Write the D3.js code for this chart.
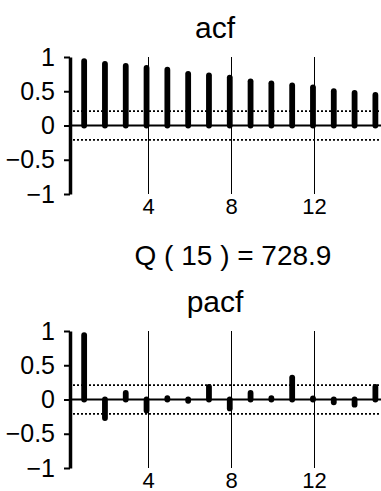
<!DOCTYPE html>
<html>
<head>
<meta charset="utf-8">
<script src="https://cdn.jsdelivr.net/npm/d3@7"></script>
<style>
  html, body { margin: 0; padding: 0; background: #fff; }
  svg { display: block; font-family: "Liberation Sans", Arial, sans-serif; }
</style>
</head>
<body>
<svg id="chart" width="381" height="491"></svg>
<script>
// Correlogram data: autocorrelation and partial autocorrelation by lag
const lags = [1, 2, 3, 4, 5, 6, 7, 8, 9, 10, 11, 12, 13, 14, 15];
const acfValues = [0.94, 0.90, 0.87, 0.84, 0.815, 0.755, 0.73, 0.70, 0.645, 0.615, 0.585, 0.555, 0.50, 0.475, 0.445];
const pacfValues = [0.94, -0.27, 0.095, -0.16, 0.02, -0.02, 0.185, -0.13, 0.095, 0.02, 0.32, 0.015, -0.04, -0.075, 0.185];
const confBound = 0.21;
const yTicks = [-1, -0.5, 0, 0.5, 1];
const xTicks = [4, 8, 12];
const qLabel = "Q ( 15 ) = 728.9";

const svg = d3.select("#chart");

const x = d3.scaleLinear().domain([0.32, 15.27]).range([70, 381]);

function panel(title, values, top, titleY) {
  const y = d3.scaleLinear().domain([-1, 1]).range([top + 137, top]);
  const g = svg.append("g");

  // vertical reference lines at labelled lags
  g.selectAll("line.grid").data(xTicks).join("line")
    .attr("class", "grid")
    .attr("x1", d => Math.round(x(d)) + 1.5).attr("x2", d => Math.round(x(d)) + 1.5)
    .attr("y1", y(1)).attr("y2", y(-1))
    .attr("stroke", "#000").attr("stroke-width", 1);

  // confidence bounds
  g.selectAll("line.conf").data([confBound, -confBound]).join("line")
    .attr("class", "conf")
    .attr("x1", x.range()[0] + 3).attr("x2", x.range()[1])
    .attr("y1", d => y(d)).attr("y2", d => y(d))
    .attr("stroke", "#000").attr("stroke-width", 1.7)
    .attr("stroke-dasharray", "2,2");

  // zero line
  g.append("line")
    .attr("x1", x.range()[0]).attr("x2", x.range()[1])
    .attr("y1", y(0)).attr("y2", y(0))
    .attr("stroke", "#000").attr("stroke-width", 2);

  // spikes
  g.selectAll("line.spike").data(lags).join("line")
    .attr("class", "spike")
    .attr("x1", d => x(d)).attr("x2", d => x(d))
    .attr("y1", y(0)).attr("y2", (d, i) => y(values[i]))
    .attr("stroke", "#000").attr("stroke-width", 5.8)
    .attr("stroke-linecap", "round");

  // y axis
  const ax = g.append("g")
    .attr("transform", `translate(${x.range()[0]},0)`)
    .call(d3.axisLeft(y).tickValues(yTicks).tickFormat(d3.format("")).tickSize(6).tickSizeOuter(0).tickPadding(9));
  ax.select(".domain").attr("stroke-width", 3.5);
  ax.selectAll(".tick line").attr("stroke-width", 2);
  ax.selectAll(".tick text").attr("font-size", 25).attr("font-family", "Liberation Sans, Arial, sans-serif").attr("fill", "#000");

  // x tick labels
  g.selectAll("text.xt").data(xTicks).join("text")
    .attr("class", "xt")
    .attr("x", d => Math.round(x(d)) + 1.5)
    .attr("y", y(-1) + 20)
    .attr("text-anchor", "middle")
    .attr("font-size", 22)
    .text(d => d);

  // title
  g.append("text")
    .attr("x", 215).attr("y", titleY)
    .attr("text-anchor", "middle")
    .attr("font-size", 30)
    .text(title);
}

panel("acf", acfValues, 57, 38);

svg.append("text")
  .attr("x", 233).attr("y", 265)
  .attr("text-anchor", "middle")
  .attr("font-size", 28)
  .text(qLabel);

panel("pacf", pacfValues, 331, 312);
</script>
</body>
</html>
